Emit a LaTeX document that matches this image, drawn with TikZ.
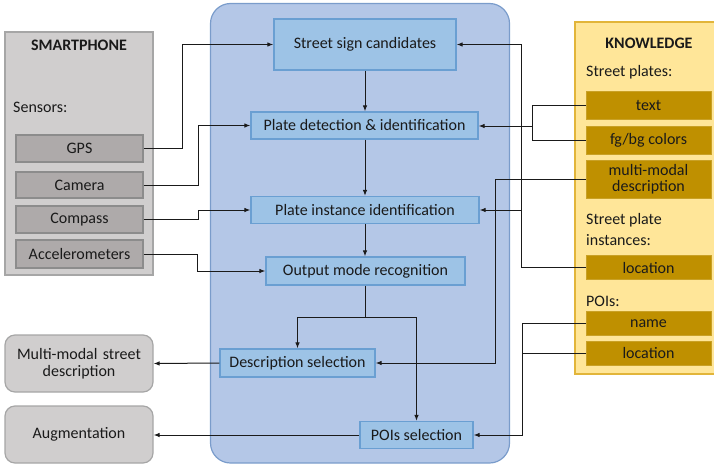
\documentclass[tikz,border=0pt]{standalone}
\usepackage{fontspec}
\setmainfont{Carlito}
\usetikzlibrary{arrows.meta}
\definecolor{panelblue}{HTML}{B4C7E7}
\definecolor{panelblueborder}{HTML}{7A9CCB}
\definecolor{boxblue}{HTML}{9DC3E6}
\definecolor{boxblueborder}{HTML}{6A9FD2}
\definecolor{phonegray}{HTML}{D0CECE}
\definecolor{phoneborder}{HTML}{A6A6A6}
\definecolor{sensorgray}{HTML}{AEAAAA}
\definecolor{sensorborder}{HTML}{8C8C8C}
\definecolor{knowyellow}{HTML}{FFE699}
\definecolor{knowborder}{HTML}{E2B53A}
\definecolor{knowgold}{HTML}{BF9000}
\definecolor{linecol}{HTML}{1A1A1A}
\begin{document}
\begin{tikzpicture}[x=1pt,y=-1pt,
  every node/.style={font=\fontsize{16}{17.5}\selectfont, inner sep=0pt, align=center, text=linecol},
  panel/.style={draw=phoneborder, fill=phonegray, line width=1.2pt},
  sensor/.style={draw=sensorborder, fill=sensorgray, line width=1.2pt, minimum width=127pt},
  proc/.style={draw=boxblueborder, fill=boxblue, line width=1.2pt},
  kbox/.style={draw=knowgold!85!white, fill=knowgold, line width=1pt, minimum width=125pt},
  outbox/.style={draw=phoneborder, fill=phonegray, line width=1.2pt, rounded corners=10pt, minimum width=148pt, minimum height=57pt},
  arr/.style={draw=linecol, line width=1pt, -{Latex[length=6pt,width=4.5pt]}},
  ln/.style={draw=linecol, line width=1pt}
]
\useasboundingbox (0,0) rectangle (714,466);
% panels
\node[panel, minimum width=148pt, minimum height=243pt] (phone) at (79,153.5) {};
\node[draw=panelblueborder, fill=panelblue, line width=1.2pt, rounded corners=20pt, minimum width=299pt, minimum height=459.5pt] (core) at (360,233.25) {};
\fill[knowyellow] (575,22) rectangle (714,374);
\draw[knowborder, line width=1.2pt] (714,22) -- (575,22) -- (575,374) -- (714,374);
% smartphone content
\node[font=\fontsize{16}{17.5}\selectfont\bfseries] (phonetitle) at (79,45) {SMARTPHONE};
\node[anchor=west] (sensors) at (13,107) {Sensors:};
\node[sensor, minimum height=27pt] (gps) at (79.5,148.5) {GPS};
\node[sensor, minimum height=26pt] (camera) at (79.5,185) {Camera};
\node[sensor, minimum height=27pt] (compass) at (79.5,219.5) {Compass};
\node[sensor, minimum height=28pt] (accel) at (79.5,254) {Accelerometers};
% processing boxes
\node[proc, minimum width=182pt, minimum height=51pt] (ssc) at (365,44.5) {Street sign candidates};
\node[proc, minimum width=227pt, minimum height=27pt] (pdi) at (364.5,125.5) {Plate detection \& identification};
\node[proc, minimum width=228pt, minimum height=27pt] (pii) at (365,210) {Plate instance identification};
\node[proc, minimum width=199pt, minimum height=28pt] (omr) at (365.5,271) {Output mode recognition};
\node[proc, minimum width=155pt, minimum height=28pt] (dsel) at (297.5,363) {Description selection};
\node[proc, minimum width=113pt, minimum height=27pt] (psel) at (416.5,435) {POIs selection};
% outputs
\node[outbox, text width=140pt] (mmsd) at (79,363.5) {Multi-modal street\\[-1pt]description};
\node[outbox] (aug) at (79,434.5) {Augmentation};
% knowledge content
\node[font=\fontsize{16}{17.5}\selectfont\bfseries] (knowtitle) at (649,43) {KNOWLEDGE};
\node[anchor=west] (splates) at (586,72) {Street plates:};
\node[kbox, minimum height=28pt] (ktext) at (648.5,105) {text};
\node[kbox, minimum height=28pt] (kcol) at (648.5,140) {fg/bg colors};
\node[kbox, minimum height=38pt, text width=120pt] (kmmd) at (648.5,179) {multi-modal\\[-2pt]description};
\node[anchor=west] (spinst1) at (586,220) {Street plate};
\node[anchor=west] (spinst2) at (586,240) {instances:};
\node[kbox, minimum height=24pt] (kloc) at (648.5,267.5) {location};
\node[anchor=west] (pois) at (586,301) {POIs:};
\node[kbox, minimum height=24pt] (kname) at (648.5,323.5) {name};
\node[kbox, minimum height=24pt] (kploc) at (648.5,353) {location};
% sensor connectors
\draw[arr] (gps.east) -- ++(39,0) |- (ssc.west);
\draw[arr] (camera.east) -- ++(54.5,0) |- (pdi.west);
\draw[arr] (compass.east) -- ++(54.5,0) |- (pii.west);
\draw[arr] (accel.east) -- ++(54,0) |- (omr.west);
% main flow
\draw[arr] (ssc.south) -- (pdi.north -| ssc.south);
\draw[arr] (pdi.south -| ssc.south) -- (pii.north -| ssc.south);
\draw[arr] (pii.south) -- (pii.south |- omr.north);
\draw[ln] (pii.south |- omr.south) coordinate (omrb) -- (omrb |- 0,317) coordinate (split);
\coordinate (splitL) at (dsel.north |- split);
\coordinate (splitR) at (psel.north |- split);
\draw[ln] (splitL) -- (splitR);
\draw[arr] (splitL) -- (dsel.north);
\draw[arr] (splitR) -- (psel.north);
\draw[arr] (dsel.west) -- (mmsd.east);
\draw[arr] (psel.west) -- (aug.east |- psel.west);
% knowledge connectors
\coordinate (jcol) at (532,126);
\draw[ln] (ktext.west) -- (ktext.west -| jcol) -- (kcol.west -| jcol) -- (kcol.west);
\draw[arr] (jcol) -- (pdi.east |- jcol);
\draw[arr] (kmmd.west) -- ++(-90,0) coordinate (jm) -- (jm |- dsel.east) -- (dsel.east);
\coordinate (jl) at (521,267.5);
\draw[ln] (kloc.west) -- (jl);
\draw[arr] (jl) -- (jl |- ssc.east) -- (ssc.east);
\draw[arr] (jl |- pii.east) -- (pii.east);
\draw[ln] (kname.west) -- (kname.west -| 522,0) coordinate (jn) -- (jn |- kploc.west) -- (kploc.west);
\draw[arr] (jn) -- (jn |- psel.east) -- (psel.east);
\end{tikzpicture}
\end{document}
